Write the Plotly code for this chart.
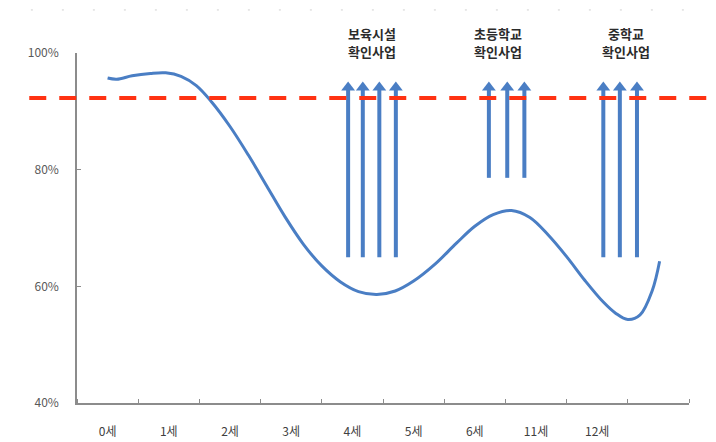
import plotly.graph_objects as go

# category labels on the x axis (10 slots, last one unlabeled)
age_labels = ["0세", "1세", "2세", "3세", "4세", "5세", "6세", "11세", "12세", ""]

# curve (position in category units, rate in %)
curve_pos = [0.0, 0.15, 0.4, 0.7, 0.95, 1.2, 1.45, 1.7, 2.0, 2.3, 2.6, 2.9,
             3.2, 3.5, 3.8, 4.1, 4.4, 4.7, 5.0, 5.35, 5.7, 6.0, 6.3, 6.6,
             6.9, 7.2, 7.5, 7.8, 8.1, 8.3, 8.5, 8.7, 8.9, 9.02]
curve_rate = [95.7, 95.5, 96.1, 96.5, 96.6, 96.0, 94.4, 91.6, 87.4, 82.5, 77.2, 71.9,
              67.2, 63.5, 60.8, 59.1, 58.6, 59.2, 60.9, 63.8, 67.4, 70.3, 72.3, 73.0,
              71.8, 68.8, 65.1, 61.0, 57.3, 55.4, 54.3, 55.1, 59.3, 64.3]

target_rate = 92.3

# arrow groups: x positions, tail value, head value, label lines
group_line1 = ["보육시설", "초등학교", "중학교"]
group_line2 = ["확인사업", "확인사업", "확인사업"]
group_label_pos = [4.32, 6.38, 8.47]
group_arrow_pos = [[3.93, 4.17, 4.44, 4.71], [6.23, 6.53, 6.81], [8.10, 8.37, 8.65]]
group_arrow_tail = [65.0, 78.6, 65.0]
arrow_head = 94.1

FONT = "Noto Sans CJK KR"
BLUE = "#4A7EC4"

fig = go.Figure()
fig.add_trace(go.Scatter(
    x=curve_pos, y=curve_rate, mode="lines",
    line=dict(color=BLUE, width=3, shape="spline", smoothing=1.0),
    hoverinfo="skip", showlegend=False, cliponaxis=False,
))

# arrows: shafts + triangular heads
shaft_x, shaft_y, head_x, head_y = [], [], [], []
for xs, tail in zip(group_arrow_pos, group_arrow_tail):
    for xa in xs:
        shaft_x += [xa, xa, None]
        shaft_y += [tail, arrow_head, None]
        head_x.append(xa)
        head_y.append(arrow_head)
fig.add_trace(go.Scatter(
    x=shaft_x, y=shaft_y, mode="lines", line=dict(color=BLUE, width=4),
    hoverinfo="skip", showlegend=False,
))
fig.add_trace(go.Scatter(
    x=head_x, y=head_y, mode="markers",
    marker=dict(symbol="triangle-up", size=12, color=BLUE, line=dict(width=0)),
    hoverinfo="skip", showlegend=False, cliponaxis=False,
))

shapes = [
    dict(type="line", xref="paper", yref="y", x0=-0.078, x1=1.05,
         y0=target_rate, y1=target_rate,
         line=dict(color="#FF3212", width=4, dash="17px,13px"), layer="above"),
    dict(type="line", xref="paper", yref="paper", x0=-0.126, x1=1.05,
         y0=1.123, y1=1.123,
         line=dict(color="#d0d0d0", width=1, dash="2px,29px")),
]

annotations = []
for l1, l2, lp in zip(group_line1, group_line2, group_label_pos):
    for txt, yp in ((l1, 1.057), (l2, 1.003)):
        annotations.append(dict(
            x=lp, y=yp, xref="x", yref="paper", text=txt, showarrow=False,
            font=dict(family=FONT, size=13, color="#2b2b2b", weight="bold"),
            align="center", yanchor="middle",
        ))

fig.update_layout(
    width=716, height=442,
    margin=dict(l=69, r=35, t=45, b=47, autoexpand=False),
    paper_bgcolor="white", plot_bgcolor="white",
    font=dict(family=FONT, size=12, color="#595959"),
    shapes=shapes, annotations=annotations,
    xaxis=dict(
        range=[-0.5, 9.5], tickmode="array", tickvals=list(range(10)),
        ticktext=age_labels, ticks="", showline=True, linecolor="#8c8c8c",
        linewidth=1.5, showgrid=False, zeroline=False, ticklabelstandoff=17,
        automargin=False,
        tickfont=dict(family=FONT, size=12, color="#404040"),
        minor=dict(tickmode="array", tickvals=[k - 0.5 for k in range(11)],
                   ticks="inside", ticklen=4, tickcolor="#8c8c8c", tickwidth=1, showgrid=False),
    ),
    yaxis=dict(
        range=[40, 100], tickmode="array", tickvals=[40, 60, 80, 100],
        ticktext=["40%", "60%", "80%", "100%"], ticks="inside", ticklen=4,
        tickcolor="#8c8c8c", showline=True, linecolor="#8c8c8c", linewidth=1.5,
        showgrid=False, zeroline=False, ticklabelstandoff=14, automargin=False,
        tickfont=dict(family=FONT, size=12, color="#595959"),
    ),
)

fig.write_html("out.html")
